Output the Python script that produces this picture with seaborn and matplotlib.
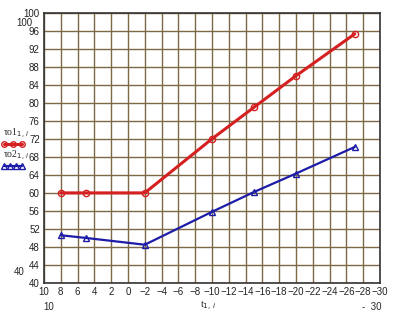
import matplotlib
matplotlib.use("Agg")
import matplotlib.pyplot as plt
from matplotlib.lines import Line2D
import pandas as pd
import seaborn as sns

# values
t_vals = [8, 5, -2, -10, -15, -20, -27]
tau1 = [60, 60, 60, 72, 79, 86, 95.3]
tau2 = [50.6, 50.0, 48.5, 55.8, 60.2, 64.3, 70.2]
x_ticks = list(range(10, -31, -2))
y_ticks = list(range(40, 101, 4))

df = pd.DataFrame({"t": t_vals + t_vals,
                   "tau": tau1 + tau2,
                   "series": ["tau1"] * len(t_vals) + ["tau2"] * len(t_vals)})

sns.set_style("white")
plt.rcParams['font.family'] = ['Liberation Sans', 'DejaVu Sans']

red = "#d42020"
blue = "#1c1ca8"
grid_c = "#7d6a45"
serif = ["Liberation Serif", "DejaVu Serif"]

fig = plt.figure(figsize=(3.97, 3.2), dpi=100)
ax = fig.add_axes([0.1108, 0.1156, 0.8463, 0.8447])

sns.lineplot(data=df[df.series == "tau1"], x="t", y="tau", sort=False,
             estimator=None, color=red, lw=2.2, marker="o", ms=4.5,
             markerfacecolor="none", markeredgecolor=red, mew=1.0, ax=ax)
sns.lineplot(data=df[df.series == "tau2"], x="t", y="tau", sort=False,
             estimator=None, color=blue, lw=1.6, marker="^", ms=4.5,
             markerfacecolor="none", markeredgecolor=blue, mew=1.0, ax=ax)

ax.set_xlim(10, -30)
ax.set_ylim(40, 100)
ax.set_xticks(x_ticks)
ax.set_yticks(y_ticks)
ax.set_xticklabels([str(v).replace("-", "\u2212") for v in x_ticks])
ax.grid(True, color=grid_c, lw=1.0)
ax.set_axisbelow(True)
ax.tick_params(labelsize=7, length=2, width=0.8, pad=1, colors="#222222")
for s in ax.spines.values():
    s.set_color("#333333")
    s.set_linewidth(1.2)
ax.set_xlabel("")
ax.set_ylabel("")

# Mathcad style limit labels
fig.text(24 / 397, 1 - 23 / 320, "100", fontsize=7, ha="center", va="center")
fig.text(19 / 397, 1 - 272 / 320, "40", fontsize=7, ha="center", va="center")
fig.text(49 / 397, 1 - 307 / 320, "10", fontsize=7, ha="center", va="center")
fig.text(372 / 397, 1 - 307 / 320, "-  30", fontsize=7, ha="center", va="center")
fig.text(208 / 397, 1 - 306 / 320, r"t$_{1,\,i}$", fontsize=7.5,
         family=serif, ha="center", va="center")

# legend on the left
fig.text(3 / 397, 1 - 134 / 320, r"τo1$_{1,\,i}$", fontsize=7,
         family=serif, va="center")
fig.add_artist(Line2D([4 / 397, 13 / 397, 22 / 397], [1 - 144 / 320] * 3,
                      transform=fig.transFigure, color=red, lw=2.2,
                      marker="o", ms=4, markerfacecolor="none"))
fig.text(3 / 397, 1 - 156 / 320, r"τo2$_{1,\,i}$", fontsize=7,
         family=serif, va="center")
fig.add_artist(Line2D([4 / 397, 10 / 397, 16 / 397, 22 / 397], [1 - 166 / 320] * 4,
                      transform=fig.transFigure, color=blue, lw=1.6,
                      marker="^", ms=4, markerfacecolor="none"))

fig.savefig("out.png", dpi=100)
